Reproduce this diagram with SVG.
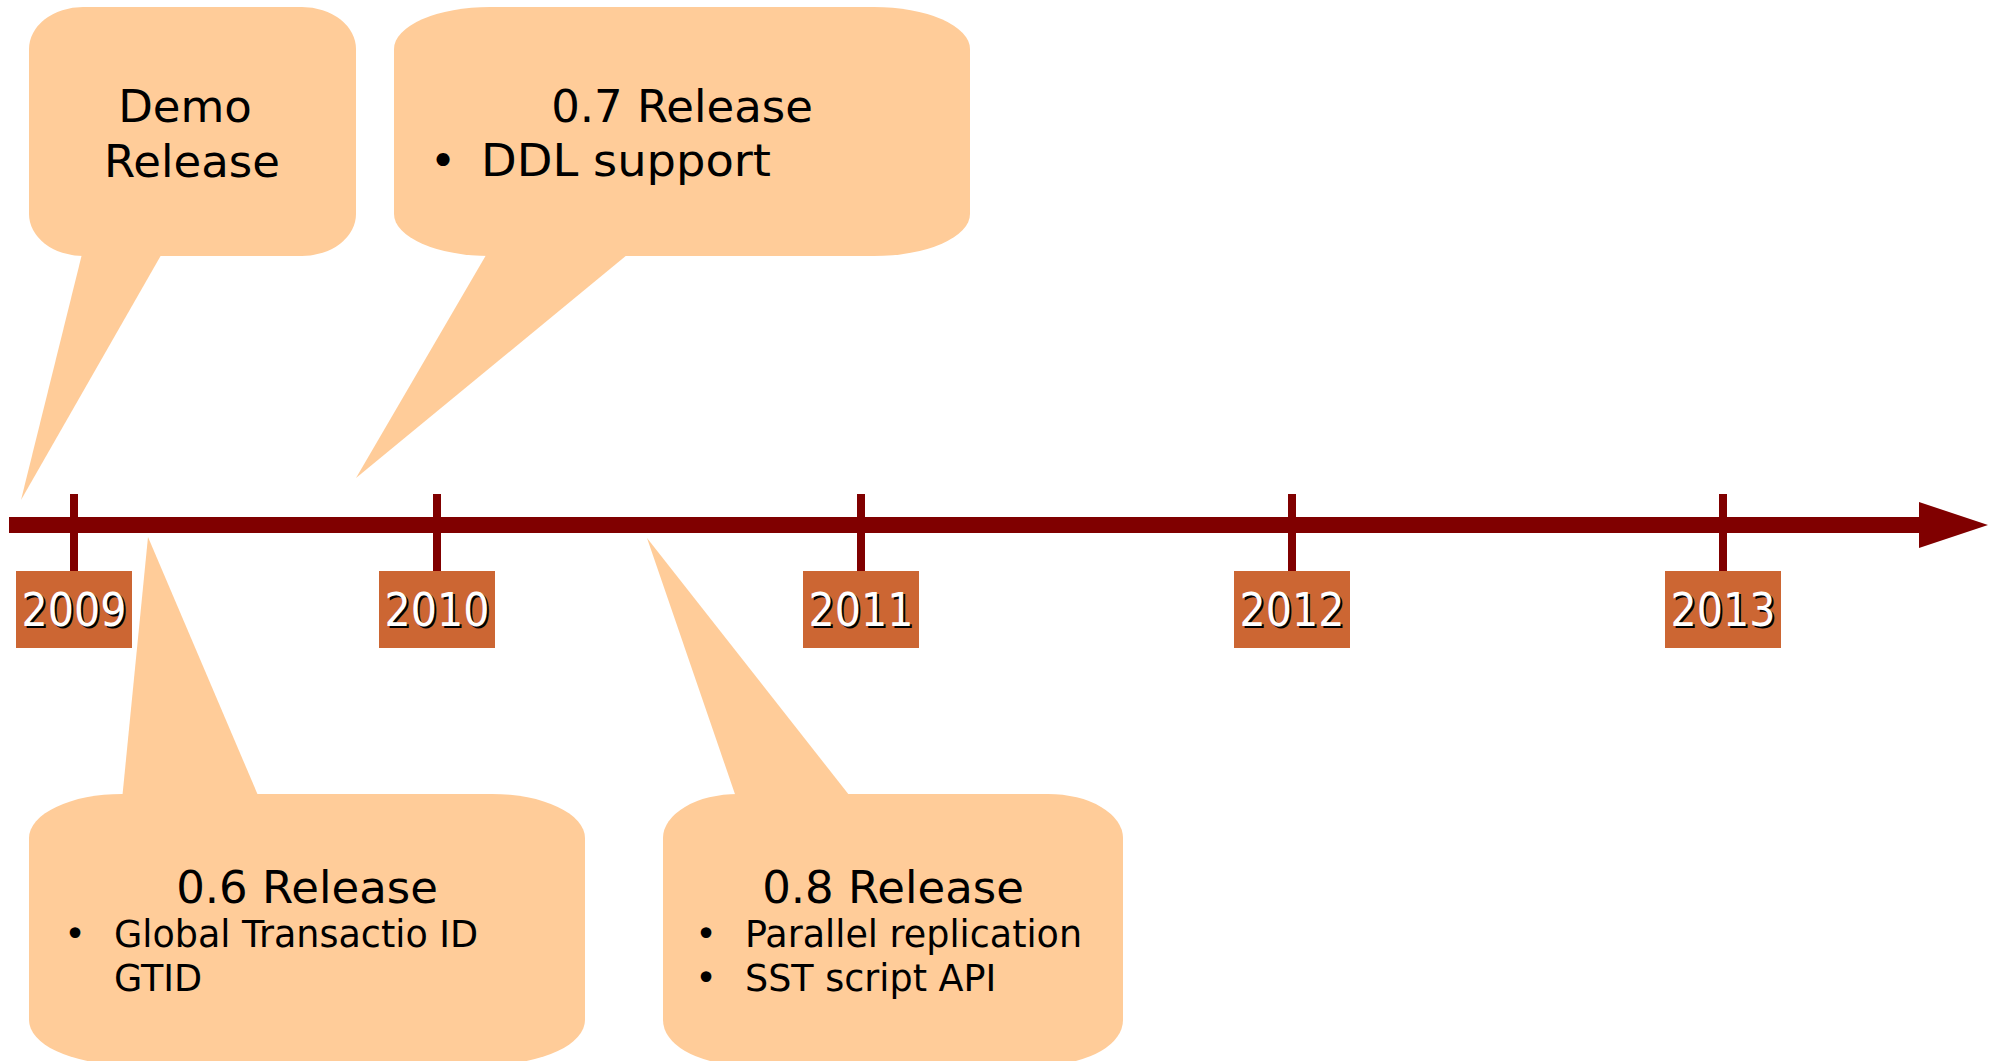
<svg xmlns="http://www.w3.org/2000/svg" width="1998" height="1061" viewBox="0 0 1998 1061">
  <style>
    .bubble { fill: #FFCC99; }
    .txt { font-family: "DejaVu Sans", "Liberation Sans", sans-serif; fill: #000000; }
    .head { font-size: 45px; text-anchor: middle; }
    .big { font-size: 45px; }
    .small { font-size: 36.5px; }
    .bul { text-anchor: middle; }
    .axis { fill: #800000; }
    .yearbox { fill: #CC6633; }
    .year { font-family: "DejaVu Sans", "Liberation Sans", sans-serif; font-size: 47px; text-anchor: middle; }
    .yshadow { fill: #000000; }
    .yfront { fill: #FFFFFF; }
  </style>

  <g id="connectors">
    <rect class="axis" x="9" y="517" width="1912" height="16"/>
    <polygon class="axis" points="1919,502 1988,525 1919,548"/>
    <rect class="axis" x="70" y="494" width="8" height="77"/>
    <rect class="axis" x="433" y="494" width="8" height="77"/>
    <rect class="axis" x="857" y="494" width="8" height="77"/>
    <rect class="axis" x="1288" y="494" width="8" height="77"/>
    <rect class="axis" x="1719" y="494" width="8" height="77"/>
  </g>

  <g id="year-2009">
    <rect class="yearbox" x="16" y="571" width="116" height="77"/>
    <text class="year yshadow" x="76" y="628" textLength="105" lengthAdjust="spacingAndGlyphs">2009</text>
    <text class="year yfront" x="74" y="626" textLength="105" lengthAdjust="spacingAndGlyphs">2009</text>
  </g>
  <g id="year-2010">
    <rect class="yearbox" x="379" y="571" width="116" height="77"/>
    <text class="year yshadow" x="439" y="628" textLength="105" lengthAdjust="spacingAndGlyphs">2010</text>
    <text class="year yfront" x="437" y="626" textLength="105" lengthAdjust="spacingAndGlyphs">2010</text>
  </g>
  <g id="year-2011">
    <rect class="yearbox" x="803" y="571" width="116" height="77"/>
    <text class="year yshadow" x="863" y="628" textLength="105" lengthAdjust="spacingAndGlyphs">2011</text>
    <text class="year yfront" x="861" y="626" textLength="105" lengthAdjust="spacingAndGlyphs">2011</text>
  </g>
  <g id="year-2012">
    <rect class="yearbox" x="1234" y="571" width="116" height="77"/>
    <text class="year yshadow" x="1294" y="628" textLength="105" lengthAdjust="spacingAndGlyphs">2012</text>
    <text class="year yfront" x="1292" y="626" textLength="105" lengthAdjust="spacingAndGlyphs">2012</text>
  </g>
  <g id="year-2013">
    <rect class="yearbox" x="1665" y="571" width="116" height="77"/>
    <text class="year yshadow" x="1725" y="628" textLength="105" lengthAdjust="spacingAndGlyphs">2013</text>
    <text class="year yfront" x="1723" y="626" textLength="105" lengthAdjust="spacingAndGlyphs">2013</text>
  </g>

  <g id="demo-release">
    <rect class="bubble" x="29" y="7" width="327" height="249" rx="54" ry="42"/>
    <polygon class="bubble" points="83,250 164,250 21,500"/>
    <text class="txt head" x="185" y="122">Demo</text>
    <text class="txt head" x="192" y="177">Release</text>
  </g>

  <g id="release-07">
    <rect class="bubble" x="394" y="7" width="576" height="249" rx="96" ry="42"/>
    <polygon class="bubble" points="489,250 633,250 356,478"/>
    <text class="txt head" x="682" y="122">0.7 Release</text>
    <text class="txt big bul" x="443" y="176">•</text>
    <text class="txt big" x="481" y="176" textLength="290" lengthAdjust="spacingAndGlyphs">DDL support</text>
  </g>

  <g id="release-06">
    <rect class="bubble" x="29" y="794" width="556" height="270" rx="93" ry="44"/>
    <polygon class="bubble" points="148,537 122,800 260,800"/>
    <text class="txt head" x="307" y="903">0.6 Release</text>
    <text class="txt small bul" x="75" y="947">•</text>
    <text class="txt small" x="114" y="947">Global Transactio ID</text>
    <text class="txt small" x="114" y="991">GTID</text>
  </g>

  <g id="release-08">
    <rect class="bubble" x="663" y="794" width="460" height="270" rx="75" ry="44"/>
    <polygon class="bubble" points="647,538 737,800 853,800"/>
    <text class="txt head" x="893" y="903">0.8 Release</text>
    <text class="txt small bul" x="706" y="947">•</text>
    <text class="txt small" x="745" y="947">Parallel replication</text>
    <text class="txt small bul" x="706" y="991">•</text>
    <text class="txt small" x="745" y="991">SST script API</text>
  </g>
</svg>
